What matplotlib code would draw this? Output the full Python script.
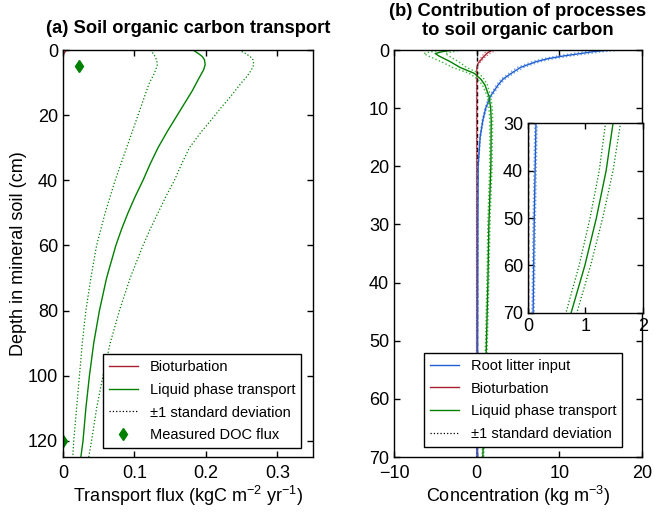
import matplotlib
matplotlib.use("Agg")
import matplotlib.pyplot as plt
from matplotlib.lines import Line2D

plt.rcParams["font.family"] = ["Liberation Sans", "DejaVu Sans"]
plt.rcParams["xtick.direction"] = "in"
plt.rcParams["ytick.direction"] = "in"
plt.rcParams["xtick.top"] = True
plt.rcParams["ytick.right"] = True
plt.rcParams["axes.linewidth"] = 1.0

GREEN = "#008000"
GREEN_LIGHT = "#3cb43c"
RED = "#a8202f"
RED_LIGHT = "#c86070"
BLUE = "#1f5fcf"
BLUE_LIGHT = "#6f9fe6"

# (a) transport flux profiles
flux_depth = [0, 1, 2, 3, 4.5, 6, 8, 10, 12.5, 15, 17.5, 20, 25, 30, 35, 40, 45, 50, 55, 60,
              70, 80, 90, 100, 110, 120, 125]
flux_liquid = [0.182, 0.189, 0.195, 0.198, 0.199, 0.197, 0.192, 0.187, 0.181, 0.174, 0.167,
               0.160, 0.146, 0.133, 0.122, 0.112, 0.101, 0.091, 0.082, 0.074,
               0.061, 0.051, 0.043, 0.037, 0.032, 0.028, 0.025]
flux_liquid_lo = [0.122, 0.126, 0.129, 0.131, 0.132, 0.130, 0.126, 0.121, 0.117, 0.113, 0.109,
                  0.105, 0.097, 0.089, 0.081, 0.073, 0.066, 0.059, 0.053, 0.047,
                  0.039, 0.032, 0.027, 0.023, 0.019, 0.015, 0.0136]
flux_liquid_hi = [0.246, 0.255, 0.262, 0.266, 0.267, 0.264, 0.258, 0.250, 0.241, 0.232, 0.222,
                  0.213, 0.194, 0.177, 0.166, 0.156, 0.144, 0.133, 0.122, 0.112,
                  0.094, 0.079, 0.066, 0.056, 0.047, 0.040, 0.036]
flux_bio_depth = [0, 0.5, 1.0, 1.5, 2.5, 125]
flux_bio = [0.005, 0.003, 0.0015, 0.0005, 0.0, 0.0]
doc_depth = [5, 120]
doc_flux = [0.022, 0.0]

# (b) concentration contributions
conc_depth = [0, 0.3, 0.6, 1.0, 1.5, 2.0, 3.0, 4.0, 5.0, 6.0, 8.0, 10, 12, 15, 20, 30, 40, 50, 60, 70]
conc_liquid = [-2.9, -4.2, -5.0, -4.6, -3.9, -3.2, -2.0, -0.3, 0.5, 1.0, 1.5, 1.7, 1.76, 1.75,
               1.72, 1.48, 1.36, 1.19, 0.99, 0.75]
conc_liquid_lo = [-4.0, -5.5, -6.4, -5.9, -5.1, -4.3, -2.9, -0.9, 0.1, 0.7, 1.3, 1.5, 1.58, 1.59,
                  1.58, 1.35, 1.24, 1.08, 0.89, 0.66]
conc_liquid_hi = [-1.8, -3.0, -3.8, -3.4, -2.8, -2.2, -1.2, 0.3, 0.9, 1.3, 1.7, 1.9, 1.94, 1.91,
                  1.86, 1.61, 1.48, 1.30, 1.09, 0.85]
conc_root = [16.0, 14.0, 12.6, 10.6, 8.6, 7.2, 5.3, 4.2, 3.2, 2.6, 1.65, 1.1, 0.76, 0.42,
             0.18, 0.14, 0.125, 0.11, 0.10, 0.09]
conc_root_lo = [14.6, 12.9, 11.6, 9.8, 8.0, 6.7, 4.9, 3.9, 2.95, 2.4, 1.5, 1.0, 0.68, 0.37,
                0.15, 0.12, 0.105, 0.09, 0.08, 0.07]
conc_root_hi = [17.6, 15.2, 13.7, 11.5, 9.3, 7.7, 5.7, 4.5, 3.45, 2.8, 1.8, 1.2, 0.84, 0.47,
                0.21, 0.16, 0.145, 0.13, 0.12, 0.11]
conc_bio_depth = [0, 0.5, 1.26, 2.0, 2.4, 3.0, 3.5, 70]
conc_bio = [1.9, 1.3, 0.77, 0.35, 0.16, 0.03, 0.0, 0.0]
conc_bio_lo = [1.4, 0.95, 0.55, 0.25, 0.1, 0.02, 0.0, 0.0]
conc_bio_hi = [2.4, 1.7, 1.0, 0.5, 0.24, 0.05, 0.0, 0.0]

TICK_FS = 13
LABEL_FS = 13
TITLE_FS = 13.2
LEGEND_FS = 10.5

fig = plt.figure(figsize=(6.55, 5.13), dpi=100)

# ---- (a) ----
ax1 = fig.add_axes([0.0962, 0.109, 0.3817, 0.7935])
ax1.plot(flux_bio, flux_bio_depth, color=RED, lw=1.0)
ax1.plot(flux_liquid, flux_depth, color=GREEN, lw=1.0)
ax1.plot(flux_liquid_lo, flux_depth, color=GREEN, lw=0.9, ls=":")
ax1.plot(flux_liquid_hi, flux_depth, color=GREEN, lw=0.9, ls=":")
ax1.plot(doc_flux, doc_depth, "d", color=GREEN, ms=6)
ax1.set_xlim(0, 0.35)
ax1.set_ylim(125, 0)
ax1.set_xticks([0, 0.1, 0.2, 0.3])
ax1.set_xticklabels(["0", "0.1", "0.2", "0.3"])
ax1.set_yticks([0, 20, 40, 60, 80, 100, 120])
ax1.tick_params(labelsize=TICK_FS, length=4, width=1.0)
ax1.tick_params(axis="x", pad=5.5)
ax1.set_xlabel(r"Transport flux (kgC m$^{\mathregular{-2}}$ yr$^{\mathregular{-1}}$)",
               fontsize=LABEL_FS, labelpad=1.5)
ax1.set_ylabel("Depth in mineral soil (cm)", fontsize=LABEL_FS, labelpad=1)
ax1.set_title("(a) Soil organic carbon transport", fontsize=TITLE_FS, fontweight="bold", pad=12)

handles1 = [
    Line2D([], [], color=RED, lw=1.0),
    Line2D([], [], color=GREEN, lw=1.0),
    Line2D([], [], color="black", lw=0.9, ls=":"),
    Line2D([], [], color=GREEN, marker="d", ls="none", ms=6),
]
labels1 = ["Bioturbation", "Liquid phase transport", "\u00b11 standard deviation", "Measured DOC flux"]
leg1 = ax1.legend(handles1, labels1, loc="lower right", bbox_to_anchor=(0.952, 0.022),
                  fontsize=LEGEND_FS, frameon=True, fancybox=False, edgecolor="black",
                  framealpha=1, labelspacing=0.6, borderaxespad=0)
leg1.get_frame().set_linewidth(1.0)

# ---- (b) ----
ax2 = fig.add_axes([0.6015, 0.109, 0.3786, 0.7935])
ax2.axvline(0, color="black", lw=1.0, ls=(0, (3, 2)), zorder=1)
ax2.plot(conc_bio, conc_bio_depth, color=RED, lw=1.0, zorder=0.9)
ax2.plot(conc_bio_lo, conc_bio_depth, color=RED_LIGHT, lw=0.9, ls=":")
ax2.plot(conc_bio_hi, conc_bio_depth, color=RED_LIGHT, lw=0.9, ls=":")
ax2.plot(conc_root_lo, conc_depth, color=BLUE_LIGHT, lw=1.0, ls=":")
ax2.plot(conc_root_hi, conc_depth, color=BLUE_LIGHT, lw=1.0, ls=":")
ax2.plot(conc_root, conc_depth, color=BLUE, lw=1.0)
ax2.plot(conc_liquid_lo, conc_depth, color=GREEN_LIGHT, lw=1.0, ls=":")
ax2.plot(conc_liquid_hi, conc_depth, color=GREEN_LIGHT, lw=1.0, ls=":")
ax2.plot(conc_liquid, conc_depth, color=GREEN, lw=1.0)
ax2.set_xlim(-10, 20)
ax2.set_ylim(70, 0)
ax2.set_xticks([-10, 0, 10, 20])
ax2.set_yticks(range(0, 71, 10))
ax2.tick_params(labelsize=TICK_FS, length=4, width=1.0)
ax2.tick_params(axis="x", pad=5.5)
ax2.set_xlabel(r"Concentration (kg m$^{\mathregular{-3}}$)", fontsize=LABEL_FS, labelpad=1.5)
ax2.set_title("(b) Contribution of processes\nto soil organic carbon", fontsize=TITLE_FS,
              fontweight="bold", pad=11, linespacing=1.1)

handles2 = [
    Line2D([], [], color=BLUE, lw=1.0),
    Line2D([], [], color=RED, lw=1.0),
    Line2D([], [], color=GREEN, lw=1.0),
    Line2D([], [], color="black", lw=0.9, ls=":"),
]
labels2 = ["Root litter input", "Bioturbation", "Liquid phase transport", "\u00b11 standard deviation"]
leg2 = ax2.legend(handles2, labels2, loc="lower right", bbox_to_anchor=(0.92, 0.025),
                  fontsize=LEGEND_FS, frameon=True, fancybox=False, edgecolor="black",
                  framealpha=1, labelspacing=0.6, borderaxespad=0)
leg2.get_frame().set_linewidth(1.0)

# ---- inset: deep part of (b) ----
ax3 = fig.add_axes([0.806, 0.390, 0.1756, 0.370])
ax3.axvline(0, color="black", lw=1.0, ls=(0, (3, 2)), zorder=1)
ax3.plot(conc_bio, conc_bio_depth, color=RED, lw=1.5, zorder=0.9)
ax3.plot(conc_root_lo, conc_depth, color=BLUE_LIGHT, lw=1.0, ls=":")
ax3.plot(conc_root_hi, conc_depth, color=BLUE_LIGHT, lw=1.0, ls=":")
ax3.plot(conc_root, conc_depth, color=BLUE, lw=1.0)
ax3.plot(conc_liquid_lo, conc_depth, color=GREEN, lw=0.9, ls=":")
ax3.plot(conc_liquid_hi, conc_depth, color=GREEN, lw=0.9, ls=":")
ax3.plot(conc_liquid, conc_depth, color=GREEN, lw=1.0)
ax3.set_xlim(0, 2)
ax3.set_ylim(70, 30)
ax3.set_xticks([0, 1, 2])
ax3.set_yticks([30, 40, 50, 60, 70])
ax3.tick_params(labelsize=TICK_FS, length=4, width=1.0)

fig.savefig("out.png", dpi=100)
